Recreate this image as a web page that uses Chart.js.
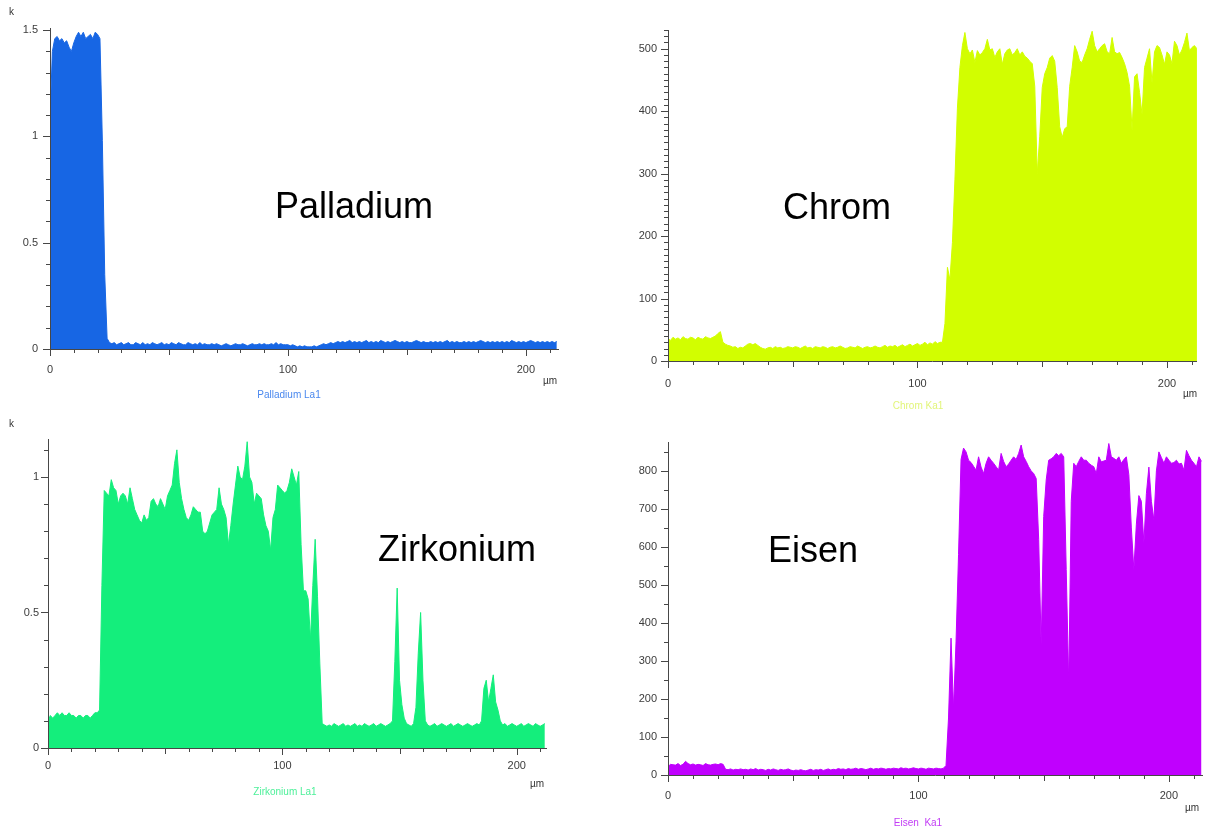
<!DOCTYPE html>
<html>
<head>
<meta charset="utf-8">
<title>Linienprofil EDX</title>
<script src="https://cdn.jsdelivr.net/npm/chart.js@4/dist/chart.umd.min.js"></script>
<style>
  body { margin: 0; background: #fff; width: 1208px; height: 831px; position: relative; overflow: hidden;
         font-family: Arial, "Liberation Sans", sans-serif; }
  canvas { position: absolute; }
  .txt { position: absolute; white-space: pre; z-index: 2; }
  .big { font-size: 36px; line-height: 36px; color: #000; transform: translateX(-50%); }
  .cap { font-size: 10px; line-height: 10px; transform: translateX(-50%); }
  .unit { font-size: 10px; line-height: 10px; color: #333; }
</style>
</head>
<body>
<canvas id="cPd" width="600" height="415" style="left:0;top:0"></canvas>
<canvas id="cCr" width="604" height="415" style="left:604px;top:0"></canvas>
<canvas id="cZr" width="600" height="416" style="left:0;top:415px"></canvas>
<canvas id="cFe" width="604" height="416" style="left:604px;top:415px"></canvas>

<div class="txt big" style="left:354px;top:188px">Palladium</div>
<div class="txt big" style="left:837px;top:189px">Chrom</div>
<div class="txt big" style="left:457px;top:531px">Zirkonium</div>
<div class="txt big" style="left:813px;top:532px">Eisen</div>

<div class="txt cap" style="left:289px;top:390px;color:#4a88ee">Palladium La1</div>
<div class="txt cap" style="left:918px;top:401px;color:#e2f57a">Chrom Ka1</div>
<div class="txt cap" style="left:285px;top:787px;color:#4ef09a">Zirkonium La1</div>
<div class="txt cap" style="left:918px;top:818px;color:#c23cf5">Eisen  Ka1</div>

<div class="txt unit" style="left:9px;top:7px">k</div>
<div class="txt unit" style="left:9px;top:419px">k</div>
<div class="txt unit" style="left:543px;top:376px">µm</div>
<div class="txt unit" style="left:1183px;top:389px">µm</div>
<div class="txt unit" style="left:530px;top:779px">µm</div>
<div class="txt unit" style="left:1185px;top:803px">µm</div>

<script>
// Scan positions in µm (one sample per µm)
const positions = Array.from({ length: 214 }, (_, i) => i);

// Palladium La1, counts in k
const palladium = [
  1.08, 1.40, 1.46, 1.47, 1.45, 1.46, 1.44, 1.45, 1.42, 1.40,
  1.44, 1.47, 1.49, 1.47, 1.49, 1.46, 1.47, 1.48, 1.46, 1.49,
  1.48, 1.46, 0.98, 0.35, 0.05, 0.03, 0.025, 0.03, 0.02, 0.025,
  0.03, 0.02, 0.025, 0.03, 0.02, 0.02, 0.03, 0.025, 0.02, 0.03,
  0.02, 0.025, 0.02, 0.03, 0.025, 0.02, 0.025, 0.03, 0.02, 0.025,
  0.02, 0.03, 0.025, 0.02, 0.03, 0.025, 0.02, 0.02, 0.03, 0.025,
  0.02, 0.025, 0.02, 0.03, 0.02, 0.025, 0.02, 0.02, 0.025, 0.02,
  0.025, 0.02, 0.015, 0.02, 0.025, 0.02, 0.015, 0.02, 0.025, 0.02,
  0.02, 0.025, 0.02, 0.015, 0.02, 0.025, 0.02, 0.02, 0.025, 0.02,
  0.025, 0.02, 0.02, 0.025, 0.02, 0.03, 0.02, 0.025, 0.02, 0.02,
  0.02, 0.015, 0.02, 0.015, 0.01, 0.015, 0.01, 0.015, 0.01, 0.01,
  0.01, 0.015, 0.01, 0.015, 0.02, 0.025, 0.02, 0.025, 0.03, 0.025,
  0.03, 0.035, 0.03, 0.035, 0.03, 0.035, 0.04, 0.03, 0.035, 0.03,
  0.035, 0.03, 0.035, 0.04, 0.03, 0.035, 0.03, 0.035, 0.03, 0.04,
  0.035, 0.03, 0.035, 0.03, 0.035, 0.04, 0.035, 0.03, 0.035, 0.03,
  0.035, 0.03, 0.03, 0.035, 0.04, 0.035, 0.03, 0.035, 0.03, 0.03,
  0.035, 0.03, 0.035, 0.03, 0.035, 0.03, 0.035, 0.04, 0.03, 0.035,
  0.03, 0.035, 0.03, 0.03, 0.035, 0.03, 0.035, 0.03, 0.035, 0.03,
  0.035, 0.04, 0.035, 0.03, 0.035, 0.03, 0.035, 0.03, 0.035, 0.03,
  0.035, 0.03, 0.035, 0.03, 0.04, 0.035, 0.03, 0.035, 0.03, 0.035,
  0.03, 0.035, 0.04, 0.035, 0.03, 0.035, 0.03, 0.035, 0.03, 0.035,
  0.03, 0.035, 0.03, 0.035
];

// Chrom Ka1, counts
const chrom = [
  36, 33, 38, 35, 37, 34, 39, 36, 35, 38,
  37, 34, 38, 36, 35, 39, 37, 36, 38, 40,
  44, 47, 30, 27, 25, 24, 22, 23, 20, 22,
  21, 24, 27, 28, 26, 28, 25, 22, 20, 19,
  21, 22, 20, 23, 21, 22, 20, 21, 23, 22,
  21, 23, 22, 20, 22, 24, 21, 22, 20, 23,
  22, 21, 23, 22, 20, 22, 23, 21, 22, 24,
  22, 20, 21, 23, 22, 21, 24, 22, 20, 22,
  23, 21, 22, 24, 22, 21, 23, 25, 22, 24,
  23, 25, 22, 24, 26, 23, 25, 27, 24, 26,
  28, 25, 27, 30, 26, 29, 27, 31, 28, 30,
  30, 60, 150, 130, 190, 290, 405, 470, 505, 526,
  500, 492, 498, 478, 497, 490, 494, 500, 515, 498,
  500, 486, 495, 500, 475, 492, 498, 500, 490, 494,
  500, 490, 495, 488, 485, 480, 476, 440, 300, 360,
  438, 460, 470, 485, 489, 480, 438, 375, 358, 372,
  375, 440, 470, 505, 495, 480, 478, 490, 500, 515,
  528, 505, 495, 500, 505, 508, 495, 492, 518, 495,
  492, 494, 486, 476, 462, 440, 370, 455, 460, 430,
  395, 470, 485, 500, 445, 495, 505, 502, 490, 475,
  495, 490, 476, 512, 505, 490, 498, 510, 525, 497,
  502, 505, 500
];

// Zirkonium La1, counts in k
const zirkonium = [
  0.10, 0.12, 0.11, 0.12, 0.13, 0.12, 0.13, 0.12, 0.12, 0.13,
  0.12, 0.12, 0.11, 0.12, 0.12, 0.11, 0.12, 0.12, 0.11, 0.12,
  0.13, 0.13, 0.14, 0.60, 0.95, 0.94, 0.93, 0.99, 0.96, 0.95,
  0.90, 0.93, 0.94, 0.93, 0.90, 0.96, 0.92, 0.88, 0.86, 0.84,
  0.83, 0.86, 0.84, 0.85, 0.91, 0.92, 0.90, 0.89, 0.92, 0.90,
  0.88, 0.93, 0.95, 0.97, 1.05, 1.10, 0.98, 0.92, 0.88, 0.85,
  0.84, 0.86, 0.89, 0.88, 0.87, 0.87, 0.80, 0.79, 0.80, 0.83,
  0.86, 0.87, 0.88, 0.96, 0.90, 0.88, 0.85, 0.75, 0.82, 0.90,
  0.97, 1.04, 1.00, 0.99, 1.04, 1.13, 1.00, 0.98, 0.90, 0.94,
  0.93, 0.92, 0.86, 0.82, 0.80, 0.73, 0.85, 0.88, 0.97, 0.96,
  0.95, 0.94, 0.95, 0.98, 1.03, 1.00, 0.97, 1.02, 0.75, 0.58,
  0.58, 0.55, 0.40, 0.60, 0.77, 0.56, 0.31, 0.09, 0.085, 0.08,
  0.085, 0.08, 0.09, 0.085, 0.08, 0.085, 0.09, 0.08, 0.085, 0.08,
  0.085, 0.09, 0.08, 0.085, 0.08, 0.09, 0.085, 0.08, 0.085, 0.09,
  0.08, 0.085, 0.09, 0.085, 0.08, 0.085, 0.09, 0.10, 0.32, 0.59,
  0.25, 0.16, 0.11, 0.09, 0.085, 0.08, 0.09, 0.15, 0.35, 0.50,
  0.25, 0.10, 0.085, 0.08, 0.085, 0.09, 0.08, 0.085, 0.09, 0.085,
  0.08, 0.085, 0.09, 0.08, 0.085, 0.09, 0.085, 0.08, 0.085, 0.09,
  0.085, 0.08, 0.085, 0.09, 0.085, 0.10, 0.22, 0.25, 0.17, 0.22,
  0.27, 0.17, 0.14, 0.10, 0.085, 0.09, 0.08, 0.085, 0.09, 0.085,
  0.08, 0.085, 0.09, 0.08, 0.085, 0.09, 0.085, 0.08, 0.09, 0.085,
  0.08, 0.085, 0.09
];

// Eisen Ka1, counts
const eisen = [
  22, 28, 27, 26, 30, 25, 28, 36, 30, 27,
  29, 26, 28, 27, 25, 30, 27, 26, 28, 29,
  27, 30, 28, 15, 14, 16, 13, 15, 14, 16,
  14, 15, 13, 16, 14, 17, 13, 15, 14, 12,
  15, 13, 16, 14, 12, 15, 13, 14, 16, 13,
  11, 13, 12, 14, 12, 11, 13, 15, 12, 14,
  13, 15, 12, 14, 16, 13, 15, 14, 17, 15,
  16, 14, 17, 15, 16, 18, 15, 17, 16, 14,
  16, 18, 15, 17, 16, 18, 17, 15, 17, 16,
  18, 17, 16, 19, 17, 18, 16, 17, 19, 17,
  16, 18, 17, 15, 18, 17, 16, 18, 17, 16,
  18, 25, 150, 360, 175, 350, 580, 830, 860, 850,
  828, 822, 812, 802, 837, 810, 793, 820, 837, 828,
  820, 811, 802, 846, 825, 811, 818, 828, 837, 830,
  846, 868, 837, 825, 811, 800, 793, 780, 620, 340,
  680, 776, 828, 832, 837, 846, 840, 846, 837, 540,
  240, 720, 820, 811, 825, 837, 828, 828, 820, 815,
  811, 793, 837, 824, 826, 828, 872, 837, 833, 828,
  837, 820, 830, 837, 790, 650, 540, 660, 735, 720,
  610, 740, 810, 720, 670, 800, 850, 835, 820, 837,
  828, 820, 822, 828, 818, 820, 802, 854, 840, 828,
  820, 811, 837, 825
];

const axisColor = '#474747';
const labelFont = { family: 'Arial, "Liberation Sans", sans-serif', size: 11 };

function onStep(v, step) {
  const q = v / step;
  return Math.abs(q - Math.round(q)) < 1e-6;
}

// short tick marks: long ones at labelled values, shorter ones in between
const tickMarks = {
  id: 'tickMarks',
  afterDraw(chart, args, opts) {
    const ctx = chart.ctx;
    const xs = chart.scales.x, ys = chart.scales.y;
    ctx.save();
    ctx.strokeStyle = axisColor;
    ctx.lineWidth = 1;
    ctx.beginPath();
    xs.ticks.forEach(t => {
      let len = 4;
      if (onStep(t.value, 100)) len = 7;
      else if (onStep(t.value, 50)) len = 6;
      const px = Math.round(xs.getPixelForValue(t.value)) + 0.5;
      ctx.moveTo(px, xs.top);
      ctx.lineTo(px, xs.top + len);
    });
    ys.ticks.forEach(t => {
      const len = onStep(t.value, opts.yLabelStep) ? 7 : 4;
      const py = Math.round(ys.getPixelForValue(t.value)) + 0.5;
      ctx.moveTo(ys.right, py);
      ctx.lineTo(ys.right - len, py);
    });
    ctx.stroke();
    ctx.restore();
  }
};

function drawPanel(id, values, color, cfg) {
  const points = values.map((v, i) => ({ x: positions[i], y: v }));
  new Chart(document.getElementById(id), {
    type: 'line',
    data: {
      datasets: [{
        data: points,
        borderColor: color,
        backgroundColor: color,
        borderWidth: 1,
        pointRadius: 0,
        tension: 0,
        fill: 'origin'
      }]
    },
    options: {
      responsive: false,
      animation: false,
      events: [],
      layout: { padding: cfg.padding },
      plugins: {
        legend: { display: false },
        tooltip: { enabled: false },
        tickMarks: { yLabelStep: cfg.yLabelStep }
      },
      scales: {
        x: {
          type: 'linear',
          min: 0,
          max: cfg.xMax,
          afterFit: s => { s.height = cfg.xHeight; },
          grid: { display: false, drawTicks: false },
          border: { display: true, color: axisColor, width: 1, z: 1 },
          ticks: {
            stepSize: 10,
            includeBounds: false,
            autoSkip: false,
            maxRotation: 0,
            padding: cfg.xPad,
            color: '#3c3c3c',
            font: labelFont,
            callback: v => onStep(v, 100) ? String(v) : ''
          }
        },
        y: {
          min: 0,
          max: cfg.yMax,
          afterFit: s => { s.width = cfg.yWidth; },
          grid: { display: false, drawTicks: false },
          border: { display: true, color: axisColor, width: 1, z: 1 },
          ticks: {
            stepSize: cfg.yStep,
            includeBounds: false,
            autoSkip: false,
            padding: cfg.yPad,
            color: '#3c3c3c',
            font: labelFont,
            callback: v => onStep(v, cfg.yLabelStep) ? String(Number(v.toFixed(2))) : ''
          }
        }
      }
    },
    plugins: [tickMarks]
  });
}

drawPanel('cPd', palladium, '#1766e4', {
  padding: { left: 0, top: 28, right: 42, bottom: 0 },
  yWidth: 50, xHeight: 66, xMax: 213.5, yMax: 1.51,
  yStep: 0.1, yLabelStep: 0.5, xPad: 14, yPad: 12
});

drawPanel('cCr', chrom, '#d2fe00', {
  padding: { left: 0, top: 30, right: 6, bottom: 0 },
  yWidth: 64, xHeight: 54, xMax: 212, yMax: 530,
  yStep: 10, yLabelStep: 100, xPad: 16, yPad: 11
});

drawPanel('cZr', zirkonium, '#14ee7c', {
  padding: { left: 0, top: 24, right: 54, bottom: 0 },
  yWidth: 48, xHeight: 83, xMax: 212.5, yMax: 1.14,
  yStep: 0.1, yLabelStep: 0.5, xPad: 11, yPad: 9
});

drawPanel('cFe', eisen, '#c000fe', {
  padding: { left: 0, top: 27, right: 2, bottom: 0 },
  yWidth: 64, xHeight: 56, xMax: 213.5, yMax: 876,
  yStep: 50, yLabelStep: 100, xPad: 14, yPad: 11
});
</script>
</body>
</html>
